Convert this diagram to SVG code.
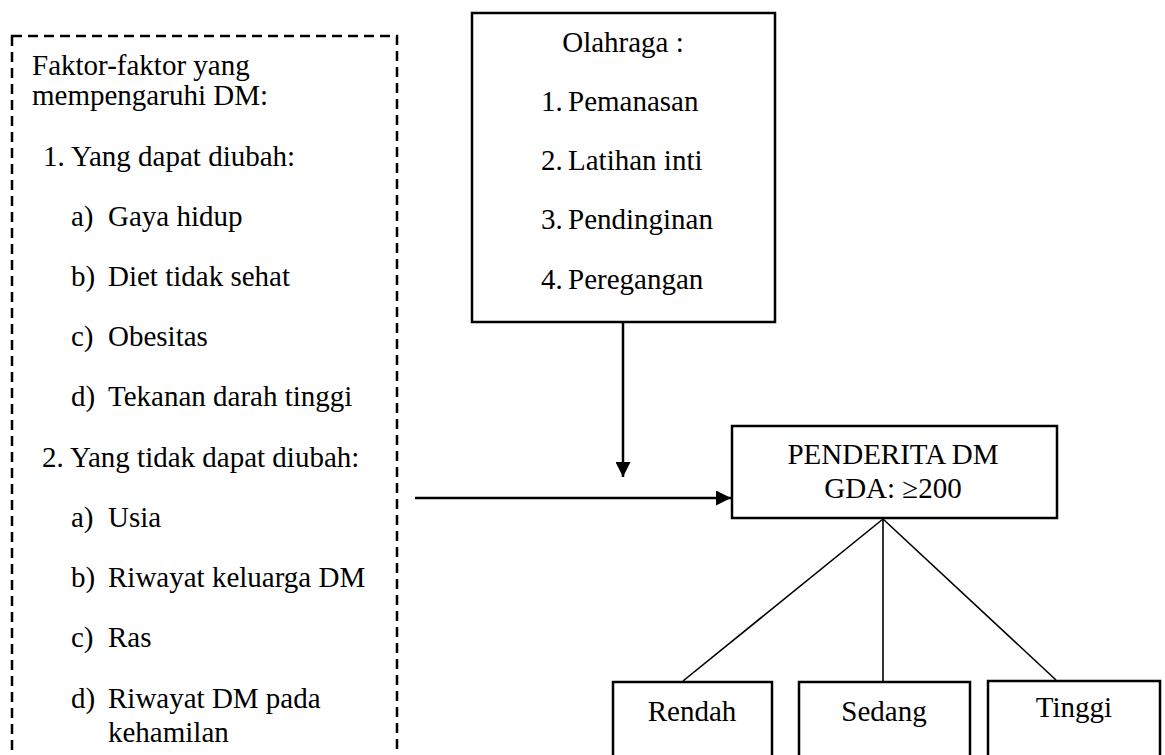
<svg xmlns="http://www.w3.org/2000/svg" width="1165" height="755" viewBox="0 0 1165 755">
<style>
text{font-family:"Liberation Serif","Times New Roman",serif;font-size:29px;fill:#000}
.c{text-anchor:middle}
.box{fill:#fff;stroke:#000;stroke-width:2.5}
.dash{fill:none;stroke:#000;stroke-width:2.5;stroke-dasharray:10 6}
.ln{fill:none;stroke:#000;stroke-width:2.5}
.tl{fill:none;stroke:#000;stroke-width:1.6}
</style>
<defs>
<marker id="ah" markerUnits="userSpaceOnUse" markerWidth="15" markerHeight="15" refX="15" refY="7.5" orient="auto">
<path d="M0,0 L15,7.5 L0,15 Z" fill="#000"/>
</marker>
</defs>
<rect width="1165" height="755" fill="#fff"/>
<g id="faktor">
<rect class="dash" x="12" y="36" width="385" height="740"/>
<text x="32" y="75">Faktor-faktor yang</text>
<text x="32" y="105">mempengaruhi DM:</text>
<text x="43" y="166">1. Yang dapat diubah:</text>
<text x="71" y="226">a)</text><text x="108" y="226">Gaya hidup</text>
<text x="71" y="286">b)</text><text x="108" y="286">Diet tidak sehat</text>
<text x="71" y="346">c)</text><text x="108" y="346">Obesitas</text>
<text x="71" y="406">d)</text><text x="108" y="406">Tekanan darah tinggi</text>
<text x="42" y="467">2. Yang tidak dapat diubah:</text>
<text x="71" y="527">a)</text><text x="108" y="527">Usia</text>
<text x="71" y="587">b)</text><text x="108" y="587">Riwayat keluarga DM</text>
<text x="71" y="647">c)</text><text x="108" y="647">Ras</text>
<text x="71" y="708">d)</text><text x="108" y="708">Riwayat DM pada</text>
<text x="108" y="742">kehamilan</text>
</g>
<g id="olahraga">
<rect class="box" x="472" y="13" width="303" height="309"/>
<text class="c" x="623" y="52">Olahraga :</text>
<text x="541" y="111">1.</text><text x="568" y="111">Pemanasan</text>
<text x="541" y="170">2.</text><text x="568" y="170">Latihan inti</text>
<text x="541" y="229">3.</text><text x="568" y="229">Pendinginan</text>
<text x="541" y="289">4.</text><text x="568" y="289">Peregangan</text>
</g>
<g id="penderita">
<rect class="box" x="732" y="426" width="325" height="92"/>
<text class="c" x="893" y="464">PENDERITA DM</text>
<text class="c" x="893" y="498">GDA: ≥200</text>
</g>
<g id="rendah">
<rect class="box" x="613" y="682" width="159" height="110"/>
<text class="c" x="692" y="721">Rendah</text>
</g>
<g id="sedang">
<rect class="box" x="799" y="682" width="171" height="110"/>
<text class="c" x="884" y="721">Sedang</text>
</g>
<g id="tinggi">
<rect class="box" x="988" y="681" width="172" height="110"/>
<text class="c" x="1074" y="717">Tinggi</text>
</g>
<g id="connectors">
<line class="ln" x1="623" y1="322" x2="623" y2="477" marker-end="url(#ah)"/>
<line class="ln" x1="415" y1="498" x2="731" y2="498" marker-end="url(#ah)"/>
<line class="tl" x1="883" y1="519" x2="683" y2="681"/>
<line class="tl" x1="883" y1="519" x2="883" y2="682"/>
<line class="tl" x1="883" y1="519" x2="1056" y2="680"/>
</g>
</svg>
